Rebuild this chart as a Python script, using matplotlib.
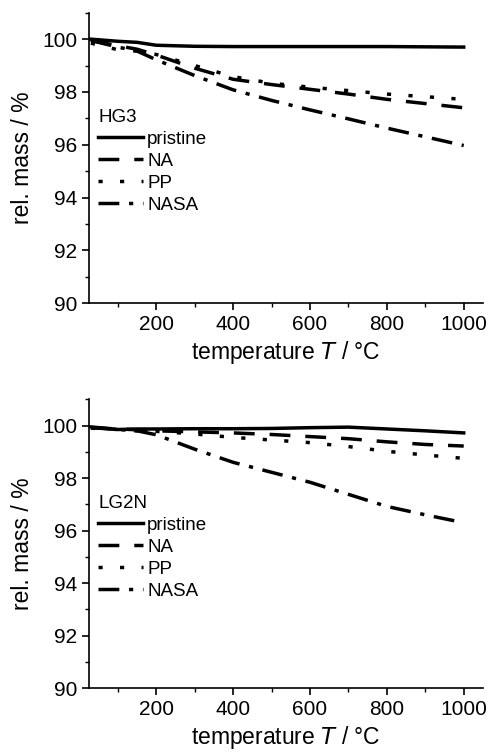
import numpy as np
import matplotlib.pyplot as plt

plt.rcParams['font.family'] = ['Liberation Sans', 'DejaVu Sans']

# temperature points (°C)
temp = [30, 100, 150, 200, 300, 400, 500, 600, 700, 800, 900, 1000]

# HG3
hg3_pristine = [100.0, 99.92, 99.88, 99.77, 99.73, 99.72, 99.72, 99.72, 99.72, 99.72, 99.71, 99.70]
hg3_na = [99.95, 99.75, 99.62, 99.40, 98.90, 98.48, 98.28, 98.10, 97.92, 97.72, 97.56, 97.40]
hg3_pp = [99.85, 99.60, 99.55, 99.42, 99.00, 98.58, 98.33, 98.18, 98.05, 97.92, 97.82, 97.72]
hg3_nasa = [99.95, 99.70, 99.55, 99.22, 98.62, 98.08, 97.68, 97.32, 96.98, 96.63, 96.30, 95.97]

# LG2N
lg2n_pristine = [99.95, 99.85, 99.87, 99.87, 99.88, 99.88, 99.89, 99.92, 99.94, 99.87, 99.80, 99.72]
lg2n_na = [99.92, 99.87, 99.84, 99.80, 99.76, 99.72, 99.66, 99.58, 99.50, 99.38, 99.28, 99.22]
lg2n_pp = [99.90, 99.85, 99.80, 99.78, 99.68, 99.55, 99.45, 99.35, 99.20, 99.02, 98.88, 98.75]
lg2n_nasa = [99.92, 99.85, 99.80, 99.65, 99.10, 98.60, 98.22, 97.84, 97.38, 96.92, 96.60, 96.30]

labels = ['pristine', 'NA', 'PP', 'NASA']
styles = ['-', (0, (6, 4.3)), (0, (1.2, 5)), (0, (6, 2.8, 1.2, 2.8))]

fig = plt.figure(figsize=(4.9, 7.52), dpi=100)
ax1 = fig.add_axes([0.1816, 0.597, 0.804, 0.386])
ax2 = fig.add_axes([0.1816, 0.085, 0.804, 0.384])

panels = [(ax1, 'HG3', [hg3_pristine, hg3_na, hg3_pp, hg3_nasa]),
          (ax2, 'LG2N', [lg2n_pristine, lg2n_na, lg2n_pp, lg2n_nasa])]

for ax, name, series in panels:
    for vals, lab, ls in zip(series, labels, styles):
        ax.plot(temp, vals, color='black', lw=2.5, ls=ls, label=lab,
                dash_capstyle='butt')
    ax.set_xlim(25, 1050)
    ax.set_ylim(90, 101)
    ax.set_xticks([200, 400, 600, 800, 1000])
    ax.set_xticks([100, 300, 500, 700, 900], minor=True)
    ax.set_yticks([90, 92, 94, 96, 98, 100])
    ax.set_yticks([91, 93, 95, 97, 99, 101], minor=True)
    for s in ['top', 'right']:
        ax.spines[s].set_visible(False)
    ax.spines['left'].set_linewidth(1.2)
    ax.spines['bottom'].set_linewidth(1.2)
    ax.tick_params(which='major', direction='out', length=5, width=1.2, labelsize=15)
    ax.tick_params(which='minor', direction='out', length=3, width=1.0)
    ax.set_xlabel('temperature $\\it{T}$ / °C', fontsize=16.5, labelpad=4)
    ax.set_ylabel('rel. mass / %', fontsize=16.5, labelpad=6)
    leg = ax.legend(title=name, loc='upper left', bbox_to_anchor=(0.024, 0.67),
                    frameon=False, fontsize=13.5, title_fontsize=13.5,
                    handlelength=2.35, handletextpad=0.25, labelspacing=0.26,
                    borderpad=0, borderaxespad=0)
    leg._legend_box.align = 'left'

fig.savefig('out.png', dpi=100)
